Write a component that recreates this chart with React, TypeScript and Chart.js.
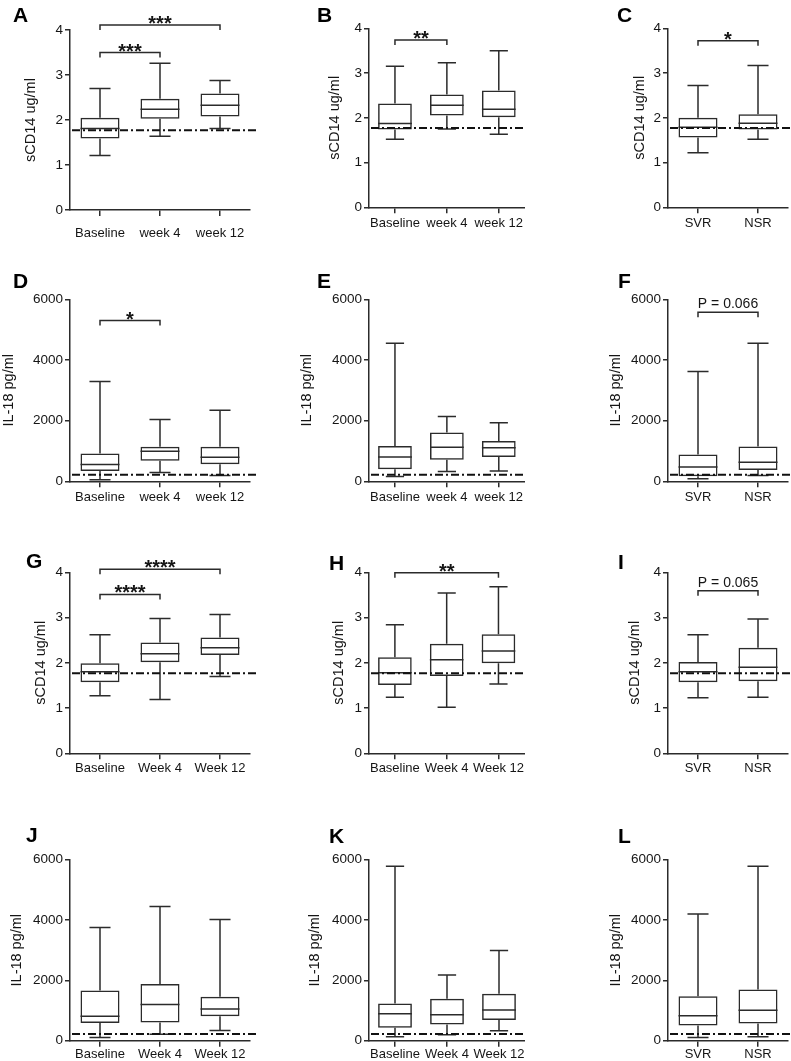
import React, { useEffect, useRef } from "react";
import { Chart, registerables } from "chart.js";
Chart.register(...registerables);

const FONT = "'Liberation Sans', Arial, Helvetica, sans-serif";
const INK = "#2b2b2b";
const TEXT = "#151515";

// ---- categories ----
const catsLowerWeek = ["Baseline", "week 4", "week 12"];
const catsUpperWeek = ["Baseline", "Week 4", "Week 12"];
const catsResponse = ["SVR", "NSR"];

// ---- axis settings ----
const sCD14Max = 4;
const sCD14Step = 1;
const il18Max = 6000;
const il18Step = 2000;
const sCD14Title = "sCD14 ug/ml";
const il18Title = "IL-18 pg/ml";
const sCD14Normal = 1.77;
const il18Normal = 220;

// ---- five-number summaries per category: [min, q1, median, q3, max] ----
const boxA = [[1.21, 1.59, 1.81, 2.05, 2.70], [1.64, 2.03, 2.24, 2.47, 3.26], [1.81, 2.08, 2.33, 2.59, 2.88]];
const boxB = [[1.52, 1.74, 1.87, 2.32, 3.15], [1.75, 2.05, 2.28, 2.52, 3.23], [1.63, 2.01, 2.19, 2.61, 3.50]];
const boxC = [[1.22, 1.56, 1.79, 2.00, 2.72], [1.52, 1.74, 1.88, 2.08, 3.17]];
const boxD = [[50, 340, 550, 920, 3290], [290, 680, 990, 1140, 2040], [190, 560, 790, 1140, 2340]];
const boxE = [[160, 400, 800, 1160, 4550], [320, 710, 1120, 1610, 2140], [340, 800, 1110, 1330, 1930]];
const boxF = [[80, 170, 470, 880, 3620], [190, 370, 630, 1150, 4550]];
const boxG = [[1.27, 1.57, 1.80, 1.99, 2.62], [1.19, 2.01, 2.20, 2.45, 2.98], [1.70, 2.17, 2.33, 2.56, 3.07]];
const boxH = [[1.24, 1.51, 1.78, 2.12, 2.84], [1.02, 1.71, 2.07, 2.42, 3.54], [1.53, 1.99, 2.26, 2.63, 3.68]];
const boxI = [[1.23, 1.57, 1.80, 2.02, 2.62], [1.24, 1.59, 1.90, 2.33, 2.97]];
const boxJ = [[110, 590, 810, 1660, 3750], [210, 600, 1200, 1880, 4450], [340, 810, 1050, 1460, 4020]];
const boxK = [[130, 430, 890, 1230, 5780], [200, 540, 860, 1390, 2180], [330, 690, 1020, 1560, 2990]];
const boxL = [[110, 500, 830, 1470, 4200], [130, 570, 1010, 1700, 5780]];

// ---- significance brackets: [fromIndex, toIndex, yValue, label] ----
const bracketsA = [[0, 1, 3.5, "***"], [0, 2, 4.11, "***"]];
const bracketsB = [[0, 1, 3.74, "**"]];
const bracketsC = [[0, 1, 3.72, "*"]];
const bracketsD = [[0, 1, 5300, "*"]];
const bracketsF = [[0, 1, 5570, "P = 0.066"]];
const bracketsG = [[0, 1, 3.51, "****"], [0, 2, 4.07, "****"]];
const bracketsH = [[0, 2, 3.99, "**"]];
const bracketsI = [[0, 1, 3.59, "P = 0.065"]];
const noBrackets: any[] = [];

const S = { max: sCD14Max, step: sCD14Step, title: sCD14Title, normal: sCD14Normal };
const IL = { max: il18Max, step: il18Step, title: il18Title, normal: il18Normal };

// ---- layout (page coordinates) ----
const panels = [
  { letter: "A", cats: catsLowerWeek, box: boxA, br: bracketsA, m: S, cx: 0, cy: 0, w: 262, h: 250, L: 70, T: 30, R: 250, B: 210, titleX: 31, xPad: 10, lx: 13, ly: 22 },
  { letter: "B", cats: catsLowerWeek, box: boxB, br: bracketsB, m: S, cx: 262, cy: 0, w: 263, h: 250, L: 369, T: 28.3, R: 549, B: 207.3, titleX: 335, xPad: 2, lx: 317, ly: 21.7 },
  { letter: "C", cats: catsResponse, box: boxC, br: bracketsC, m: S, cx: 525, cy: 0, w: 266, h: 250, L: 668, T: 28.3, R: 788, B: 207.3, titleX: 640, xPad: 2, lx: 617, ly: 21.7 },
  { letter: "D", cats: catsLowerWeek, box: boxD, br: bracketsD, m: IL, cx: 0, cy: 250, w: 262, h: 270, L: 70, T: 299.3, R: 250, B: 481.3, titleX: 9, xPad: 2, lx: 13, ly: 288.3 },
  { letter: "E", cats: catsLowerWeek, box: boxE, br: noBrackets, m: IL, cx: 262, cy: 250, w: 263, h: 270, L: 369, T: 299.3, R: 549, B: 481.3, titleX: 307, xPad: 2, lx: 317, ly: 288.3 },
  { letter: "F", cats: catsResponse, box: boxF, br: bracketsF, m: IL, cx: 525, cy: 250, w: 266, h: 270, L: 668, T: 299.3, R: 788, B: 481.3, titleX: 616, xPad: 2, lx: 618, ly: 288.3 },
  { letter: "G", cats: catsUpperWeek, box: boxG, br: bracketsG, m: S, cx: 0, cy: 520, w: 262, h: 270, L: 70, T: 572.3, R: 250, B: 753.3, titleX: 41, xPad: 1, lx: 26, ly: 568.3 },
  { letter: "H", cats: catsUpperWeek, box: boxH, br: bracketsH, m: S, cx: 262, cy: 520, w: 263, h: 270, L: 369, T: 572.3, R: 549, B: 753.3, titleX: 339, xPad: 1, lx: 329, ly: 570 },
  { letter: "I", cats: catsResponse, box: boxI, br: bracketsI, m: S, cx: 525, cy: 520, w: 266, h: 270, L: 668, T: 572.3, R: 788, B: 753.3, titleX: 635, xPad: 1, lx: 618, ly: 569.3 },
  { letter: "J", cats: catsUpperWeek, box: boxJ, br: noBrackets, m: IL, cx: 0, cy: 790, w: 262, h: 271, L: 70, T: 859.7, R: 250, B: 1040.7, titleX: 17, xPad: 0, lx: 26, ly: 841.7 },
  { letter: "K", cats: catsUpperWeek, box: boxK, br: noBrackets, m: IL, cx: 262, cy: 790, w: 263, h: 271, L: 369, T: 859.7, R: 549, B: 1040.7, titleX: 315, xPad: 0, lx: 329, ly: 842.7 },
  { letter: "L", cats: catsResponse, box: boxL, br: noBrackets, m: IL, cx: 525, cy: 790, w: 266, h: 271, L: 668, T: 859.7, R: 788, B: 1040.7, titleX: 616, xPad: 0, lx: 618, ly: 842.7 },
];

function makeBoxPlugin(p: any) {
  return {
    id: "boxExtras",
    afterDatasetsDraw(chart: any) {
      const ctx = chart.ctx;
      const ys = chart.scales.y;
      const xs = chart.scales.x;
      const meta = chart.getDatasetMeta(0);
      const py = (v: number) => ys.getPixelForValue(v);
      ctx.save();
      ctx.strokeStyle = INK;
      ctx.lineWidth = 1.5;
      ctx.setLineDash([]);
      meta.data.forEach((el: any, i: number) => {
        const b = p.box[i];
        const { x, width } = el.getProps(["x", "width"], true);
        const half = width / 2;
        const cap = width * 0.27;
        ctx.beginPath();
        ctx.moveTo(x - half, py(b[2]));
        ctx.lineTo(x + half, py(b[2]));
        ctx.moveTo(x, py(b[3]));
        ctx.lineTo(x, py(b[4]));
        ctx.moveTo(x - cap, py(b[4]));
        ctx.lineTo(x + cap, py(b[4]));
        ctx.moveTo(x, py(b[1]));
        ctx.lineTo(x, py(b[0]));
        ctx.moveTo(x - cap, py(b[0]));
        ctx.lineTo(x + cap, py(b[0]));
        ctx.stroke();
      });
      // normal-range dash-dot line
      const area = chart.chartArea;
      ctx.beginPath();
      ctx.strokeStyle = "#111";
      ctx.lineWidth = 2;
      ctx.setLineDash([8, 3, 2, 3]);
      const yn = py(p.m.normal);
      ctx.moveTo(area.left + 2, yn);
      ctx.lineTo(area.right + 8, yn);
      ctx.stroke();
      ctx.setLineDash([]);
      // brackets
      p.br.forEach((br: any) => {
        const x1 = xs.getPixelForValue(br[0]);
        const x2 = xs.getPixelForValue(br[1]);
        const yb = py(br[2]);
        ctx.beginPath();
        ctx.strokeStyle = INK;
        ctx.lineWidth = 1.5;
        ctx.moveTo(x1, yb + 5);
        ctx.lineTo(x1, yb);
        ctx.lineTo(x2, yb);
        ctx.lineTo(x2, yb + 5);
        ctx.stroke();
        ctx.fillStyle = TEXT;
        ctx.textAlign = "center";
        ctx.textBaseline = "alphabetic";
        const isStar = br[3].indexOf("*") === 0;
        if (isStar) {
          ctx.font = `bold 20px ${FONT}`;
          ctx.fillText(br[3], (x1 + x2) / 2, yb + 5);
        } else {
          ctx.font = `14px ${FONT}`;
          ctx.fillText(br[3], (x1 + x2) / 2, yb - 4);
        }
      });
      // panel letter
      ctx.fillStyle = "#000";
      ctx.textAlign = "left";
      ctx.textBaseline = "alphabetic";
      ctx.font = `bold 21px ${FONT}`;
      ctx.fillText(p.letter, p.lx - p.cx, p.ly - p.cy);
      ctx.restore();
    },
  };
}

function Panel({ p }: { p: any }) {
  const ref = useRef<HTMLCanvasElement | null>(null);
  useEffect(() => {
    const canvas = ref.current;
    if (!canvas) return;
    const chart = new Chart(canvas, {
      type: "bar",
      data: {
        labels: p.cats,
        datasets: [
          {
            data: p.box.map((b: number[]) => [b[1], b[3]]),
            backgroundColor: "rgba(0,0,0,0)",
            borderColor: INK,
            borderWidth: 1.5,
            borderSkipped: false,
            barPercentage: 0.65,
            categoryPercentage: 1,
          } as any,
        ],
      },
      options: {
        animation: false,
        responsive: false,
        maintainAspectRatio: false,
        devicePixelRatio: 1,
        events: [],
        layout: { padding: { left: 0, top: p.T - p.cy, right: p.cx + p.w - p.R, bottom: 0 } },
        plugins: { legend: { display: false }, tooltip: { enabled: false }, title: { display: false } },
        scales: {
          x: {
            type: "category",
            offset: true,
            grid: { display: true, drawOnChartArea: false, drawTicks: true, offset: false, tickLength: 6, color: INK, lineWidth: 1.5 },
            border: { display: true, color: INK, width: 1.5 },
            ticks: { padding: p.xPad, color: TEXT, font: { family: FONT, size: 13 }, maxRotation: 0, autoSkip: false },
            afterFit: (s: any) => {
              s.height = p.cy + p.h - p.B;
            },
          },
          y: {
            type: "linear",
            min: 0,
            max: p.m.max,
            ticks: { stepSize: p.m.step, padding: 2, color: TEXT, font: { family: FONT, size: 13.5 }, callback: (v: any) => String(v) },
            grid: { display: true, drawOnChartArea: false, drawTicks: true, tickLength: 5, color: INK, lineWidth: 1.5 },
            border: { display: true, color: INK, width: 1.5 },
            title: {
              display: true,
              text: p.m.title,
              color: TEXT,
              font: { family: FONT, size: 14.5 },
              padding: { top: p.titleX - p.cx - 8.7, bottom: 0 },
            },
            afterFit: (s: any) => {
              s.width = p.L - p.cx;
            },
          },
        },
      } as any,
      plugins: [makeBoxPlugin(p)],
    });
    return () => chart.destroy();
  }, [p]);
  return (
    <canvas
      ref={ref}
      width={p.w}
      height={p.h}
      style={{ position: "absolute", left: p.cx, top: p.cy, width: p.w, height: p.h }}
    />
  );
}

export default function App() {
  return (
    <div style={{ position: "absolute", left: 0, top: 0, width: 791, height: 1061, background: "#fff", overflow: "hidden" }}>
      {panels.map((p) => (
        <Panel key={p.letter} p={p} />
      ))}
    </div>
  );
}
